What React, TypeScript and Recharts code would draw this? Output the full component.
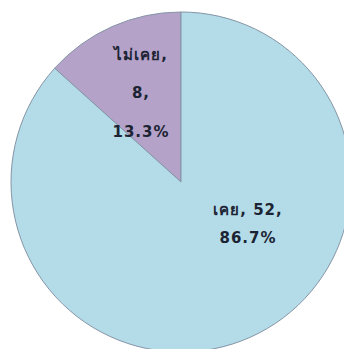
import React from "react";
import { PieChart, Pie, Cell } from "recharts";

const categories = ["ไม่เคย", "เคย"];
const values = [8, 52];
const percents = ["13.3%", "86.7%"];
const colors = ["#b4a2c9", "#b3dbe8"];

const data = categories.map((name, i) => ({ name, value: values[i], pct: percents[i] }));

const renderLabel = (props: any) => {
  const { cx, cy, index } = props;
  const d = data[index];
  const style = { fontFamily: "DejaVu Sans, Noto Sans, sans-serif", fontWeight: 700, fontSize: 15, letterSpacing: 1, fill: "#1c2433" };
  if (index === 0) {
    const x = cx - 40;
    return (
      <text x={x} y={cy - 127} textAnchor="middle" dominantBaseline="middle" style={style}>
        <tspan x={x} dy={0}>{d.name + ","}</tspan>
        <tspan x={x} dy={38}>{d.value + ","}</tspan>
        <tspan x={x} dy={39}>{d.pct}</tspan>
      </text>
    );
  }
  const x = cx + 67;
  return (
    <text x={x} y={cy + 28} textAnchor="middle" dominantBaseline="middle" style={style}>
      <tspan x={x} dy={0}>{d.name + ", " + d.value + ","}</tspan>
      <tspan x={x} dy={28}>{d.pct}</tspan>
    </text>
  );
};

export default function App() {
  return (
    <div style={{ position: "absolute", left: 0, top: 0, width: 344, height: 349, background: "#ffffff" }}>
      <PieChart width={344} height={349} margin={{ top: 0, right: 0, bottom: 0, left: 0 }}>
        <Pie
          data={data}
          dataKey="value"
          nameKey="name"
          cx={181}
          cy={182}
          outerRadius={170}
          startAngle={90}
          endAngle={450}
          stroke="#8595a6"
          strokeWidth={1}
          label={renderLabel}
          labelLine={false}
          isAnimationActive={false}
        >
          {data.map((_, i) => (
            <Cell key={i} fill={colors[i]} />
          ))}
        </Pie>
      </PieChart>
    </div>
  );
}
